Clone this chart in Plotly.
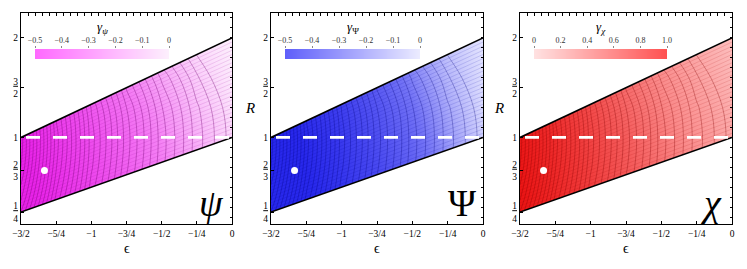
import plotly.graph_objects as go

# ---------------- data ----------------
eps_grid = [-1.5, -1.25, -1.0, -0.75, -0.5, -0.25, 0.0]
R_grid = [0.1, 0.4, 0.7, 1.0, 1.3, 1.6, 1.9, 2.3]

gamma_psi = [
    [-0.52, -0.47, -0.41, -0.34, -0.26, -0.17, -0.09],
    [-0.52, -0.47, -0.41, -0.34, -0.26, -0.17, -0.09],
    [-0.51, -0.46, -0.40, -0.33, -0.25, -0.16, -0.08],
    [-0.50, -0.44, -0.38, -0.31, -0.23, -0.14, -0.06],
    [-0.48, -0.42, -0.35, -0.28, -0.20, -0.11, -0.04],
    [-0.46, -0.39, -0.32, -0.24, -0.16, -0.08, -0.02],
    [-0.43, -0.36, -0.28, -0.20, -0.12, -0.05, -0.01],
    [-0.40, -0.32, -0.24, -0.16, -0.08, -0.03, 0.00],
]
gamma_Psi = [
    [-0.55, -0.51, -0.46, -0.40, -0.32, -0.21, -0.10],
    [-0.55, -0.51, -0.46, -0.40, -0.32, -0.21, -0.10],
    [-0.54, -0.50, -0.45, -0.39, -0.31, -0.19, -0.08],
    [-0.53, -0.49, -0.44, -0.37, -0.29, -0.17, -0.06],
    [-0.52, -0.47, -0.42, -0.35, -0.26, -0.14, -0.04],
    [-0.50, -0.45, -0.39, -0.32, -0.22, -0.11, -0.03],
    [-0.48, -0.43, -0.36, -0.28, -0.18, -0.08, -0.02],
    [-0.45, -0.40, -0.32, -0.24, -0.14, -0.05, -0.01],
]
gamma_chi = [
    [1.00, 0.92, 0.83, 0.73, 0.62, 0.50, 0.40],
    [1.00, 0.92, 0.83, 0.73, 0.62, 0.50, 0.40],
    [0.99, 0.91, 0.82, 0.72, 0.61, 0.49, 0.38],
    [0.98, 0.90, 0.80, 0.70, 0.58, 0.46, 0.35],
    [0.96, 0.87, 0.77, 0.66, 0.54, 0.42, 0.31],
    [0.93, 0.84, 0.73, 0.62, 0.50, 0.38, 0.27],
    [0.90, 0.80, 0.69, 0.57, 0.45, 0.33, 0.23],
    [0.86, 0.75, 0.64, 0.52, 0.40, 0.28, 0.19],
]
# mesh: arc index (arcs counted from the right edge)
mesh_arcs = [
    [31.1, 22.1, 15.1, 9.6, 5.1, 1.5, -1.5],
    [33.8, 24.3, 16.7, 10.9, 6.1, 2.4, -0.7],
    [35.5, 25.6, 17.7, 11.7, 6.8, 2.8, -0.2],
    [36.0, 26.0, 18.0, 12.0, 7.0, 3.0, 0.0],
    [34.9, 25.1, 17.4, 11.5, 6.6, 2.7, -0.3],
    [31.7, 22.5, 15.4, 9.8, 5.3, 1.7, -1.3],
    [26.3, 18.2, 12.2, 7.1, 3.1, 0.1, -2.9],
    [17.8, 11.9, 6.9, 2.9, -0.1, -3.1, -6.1],
]
# mesh: ray index (lines fanning between the lower and upper edge)
mesh_rays = [
    [-4.8, -8.3, -11.5, -14.4, -17.0, -19.4, -21.6],
    [4.8, 0.8, -2.9, -6.2, -9.2, -11.9, -14.4],
    [14.4, 9.9, 5.8, 2.1, -1.3, -4.4, -7.2],
    [24.0, 19.0, 14.4, 10.3, 6.6, 3.1, 0.0],
    [33.6, 28.0, 23.0, 18.5, 14.4, 10.6, 7.2],
    [43.2, 37.1, 31.7, 26.7, 22.3, 18.2, 14.4],
    [52.8, 46.2, 40.3, 35.0, 30.1, 25.7, 21.6],
    [65.6, 58.4, 51.8, 45.9, 40.6, 35.7, 31.2],
]

bound_eps = [-1.5, 0.0]
bound_upper = [1.0, 2.0]
bound_lower = [0.25, 1.0]
dash_R = [1.0, 1.0]
dot_eps = [-4 / 3]
dot_R = [2 / 3]

x_tickvals = [-1.5, -1.25, -1.0, -0.75, -0.5, -0.25, 0.0]
x_ticktext = ["\u22123/2", "\u22125/4", "\u22121", "\u22123/4", "\u22121/2", "\u22121/4", "0"]
y_tickvals = [0.25, 2 / 3, 1.0, 1.5, 2.0]
y_ticktext = ["<u>1</u><br>4", "<u>2</u><br>3", "1", "<u>3</u><br>2", "2"]

cb_neg_vals = [-0.5, -0.4, -0.3, -0.2, -0.1, 0.0]
cb_neg_text = ["\u22120.5", "\u22120.4", "\u22120.3", "\u22120.2", "\u22120.1", "0"]
cb_pos_vals = [0.0, 0.2, 0.4, 0.6, 0.8, 1.0]
cb_pos_text = ["0", "0.2", "0.4", "0.6", "0.8", "1.0"]

# ---------------- layout helpers ----------------
PAGE_OFF = 8           # the page body adds an 8px margin around the figure
W, H = 747 - 2 * PAGE_OFF, 269 - 2 * PAGE_OFF
FONT = "Liberation Serif"


def px(x):
    return (x - PAGE_OFF) / W


def py(y):
    return 1 - (y - PAGE_OFF) / H


panels = [
    dict(z=gamma_psi, zmin=-0.5, zmax=0.0,
         cs=[[0, "rgb(232,35,232)"], [0.5, "rgb(244,125,244)"], [1, "rgb(253,242,253)"]],
         cbcs=[[0, "rgb(255,105,255)"], [1, "rgb(253,240,253)"]],
         cbv=cb_neg_vals, cbt=cb_neg_text,
         arc="rgba(110,0,110,0.6)", ray="rgba(150,0,150,0.28)",
         x0=21, x1=232, cb0=35, cb1=169,
         title="<i>\u03b3</i><sub><i>\u03c8</i></sub>", letter="<i>\u03c8</i>"),
    dict(z=gamma_Psi, zmin=-0.5, zmax=0.0,
         cs=[[0, "rgb(40,40,235)"], [0.5, "rgb(115,115,245)"], [1, "rgb(236,236,255)"]],
         cbcs=[[0, "rgb(95,95,250)"], [1, "rgb(236,236,255)"]],
         cbv=cb_neg_vals, cbt=cb_neg_text,
         arc="rgba(0,0,120,0.5)", ray="rgba(0,0,170,0.28)",
         x0=271, x1=483, cb0=285, cb1=420,
         title="<i>\u03b3</i><sub>\u03a8</sub>", letter="\u03a8"),
    dict(z=gamma_chi, zmin=0.0, zmax=1.0,
         cs=[[0, "rgb(255,228,228)"], [0.5, "rgb(250,140,140)"], [1, "rgb(235,20,20)"]],
         cbcs=[[0, "rgb(255,225,225)"], [1, "rgb(255,80,80)"]],
         cbv=cb_pos_vals, cbt=cb_pos_text,
         arc="rgba(130,0,0,0.55)", ray="rgba(170,0,0,0.28)",
         x0=520, x1=732, cb0=534, cb1=667,
         title="<i>\u03b3</i><sub><i>\u03c7</i></sub>", letter="<i>\u03c7</i>"),
]

fig = go.Figure()
layout = dict(
    width=W, height=H, margin=dict(l=0, r=0, t=0, b=0, autoexpand=False),
    paper_bgcolor="white", plot_bgcolor="white", showlegend=False,
    font=dict(family=FONT, color="black"),
)
annotations = []
ydom = [py(224), py(13)]
yrange = [0.13, 2.25]
xrange = [-1.5, 0.0]


def note(x, y, text, size, **kw):
    d = dict(x=px(x), y=py(y), xref="paper", yref="paper", text=text, showarrow=False,
             xanchor="center", yanchor="middle", font=dict(size=size, family=FONT, color="black"))
    d.update(kw)
    return d


for i, p in enumerate(panels):
    k = i + 1
    kx = "" if k == 1 else str(k)
    xa, ya = "x" + kx, "y" + kx
    kt = str(k + 3)
    xt, yt = "x" + kt, "y" + kt
    kc = str(k + 6)
    xc, yc = "x" + kc, "y" + kc

    fig.add_trace(go.Heatmap(x=eps_grid, y=R_grid, z=p["z"], zmin=p["zmin"], zmax=p["zmax"],
                             colorscale=p["cs"], zsmooth="best", showscale=False,
                             hoverinfo="skip", xaxis=xa, yaxis=ya))
    fig.add_trace(go.Contour(x=eps_grid, y=R_grid, z=mesh_rays,
                             contours=dict(start=1, end=23, size=1, coloring="none"),
                             line=dict(color=p["ray"], width=0.5, smoothing=0),
                             showscale=False, hoverinfo="skip", xaxis=xa, yaxis=ya))
    fig.add_trace(go.Contour(x=eps_grid, y=R_grid, z=mesh_arcs,
                             contours=dict(start=0.5, end=40.5, size=1, coloring="none"),
                             line=dict(color=p["arc"], width=0.6, smoothing=1.0),
                             showscale=False, hoverinfo="skip", xaxis=xa, yaxis=ya))
    # white masks outside the band
    fig.add_trace(go.Scatter(
        x=bound_eps + [bound_eps[-1] + 0.05, bound_eps[-1] + 0.05, bound_eps[0] - 0.05, bound_eps[0] - 0.05],
        y=bound_upper + [bound_upper[-1], 3, 3, bound_upper[0]],
        fill="toself", fillcolor="white", mode="none", hoverinfo="skip", xaxis=xa, yaxis=ya))
    fig.add_trace(go.Scatter(
        x=bound_eps + [bound_eps[-1] + 0.05, bound_eps[-1] + 0.05, bound_eps[0] - 0.05, bound_eps[0] - 0.05],
        y=bound_lower + [bound_lower[-1], -1, -1, bound_lower[0]],
        fill="toself", fillcolor="white", mode="none", hoverinfo="skip", xaxis=xa, yaxis=ya))
    # boundary lines
    for by in (bound_upper, bound_lower):
        fig.add_trace(go.Scatter(x=bound_eps, y=by, mode="lines",
                                 line=dict(color="black", width=1.6), hoverinfo="skip",
                                 xaxis=xa, yaxis=ya))
    # dashed line R = 1
    fig.add_trace(go.Scatter(x=bound_eps, y=dash_R, mode="lines",
                             line=dict(color="white", width=2.6, dash="0px,5px,14px,8px"),
                             hoverinfo="skip", xaxis=xa, yaxis=ya))
    # white dot
    fig.add_trace(go.Scatter(x=dot_eps, y=dot_R, mode="markers",
                             marker=dict(color="white", size=7), hoverinfo="skip",
                             xaxis=xa, yaxis=ya))
    # invisible carrier for top/right tick axes
    fig.add_trace(go.Scatter(x=[None], y=[None], mode="markers", xaxis=xt, yaxis=yt,
                             hoverinfo="skip"))
    # colour bar drawn as a small heatmap on its own axes (labels on top)
    fig.add_trace(go.Heatmap(x=p["cbv"], y=[0], z=[p["cbv"]], zmin=p["zmin"], zmax=p["zmax"],
                             colorscale=p["cbcs"], zsmooth="best", showscale=False,
                             hoverinfo="skip", xaxis=xc, yaxis=yc))

    dom = [px(p["x0"]), px(p["x1"])]
    layout["xaxis" + kx] = dict(
        domain=dom, range=xrange, anchor=ya, tickmode="array", tickvals=x_tickvals,
        ticktext=x_ticktext, ticks="inside", ticklen=3, tickwidth=1, tickcolor="black",
        showline=True, linecolor="black", linewidth=1.2, mirror=True,
        showgrid=False, zeroline=False, tickfont=dict(size=9.5, family=FONT))
    layout["yaxis" + kx] = dict(
        domain=ydom, range=yrange, anchor=xa, tickmode="array", tickvals=y_tickvals,
        ticktext=y_ticktext, ticks="inside", ticklen=3, tickwidth=1, tickcolor="black",
        showline=True, linecolor="black", linewidth=1.2, mirror=True,
        showgrid=False, zeroline=False, tickfont=dict(size=9.5, family=FONT))
    layout["xaxis" + kt] = dict(
        overlaying=xa, anchor=ya, side="top", range=xrange, tick0=0, dtick=0.05,
        ticks="inside", ticklen=2.5, tickwidth=0.8, tickcolor="black",
        showticklabels=False, showgrid=False, zeroline=False, showline=False)
    layout["yaxis" + kt] = dict(
        overlaying=ya, anchor=xa, side="right", range=yrange, tick0=0, dtick=0.1,
        ticks="inside", ticklen=2.5, tickwidth=0.8, tickcolor="black",
        showticklabels=False, showgrid=False, zeroline=False, showline=False)
    cbr = [min(p["cbv"]), max(p["cbv"])]
    layout["xaxis" + kc] = dict(
        domain=[px(p["cb0"]), px(p["cb1"])], range=cbr, anchor=yc, side="top",
        tickmode="array", tickvals=p["cbv"], ticktext=p["cbt"], ticks="outside",
        ticklen=2, tickwidth=0.6, tickcolor="#888", showline=False, showgrid=False,
        zeroline=False, tickfont=dict(size=8, family=FONT, color="#333"))
    layout["yaxis" + kc] = dict(
        domain=[py(59), py(49)], range=[-0.5, 0.5], anchor=xc, visible=False)

    cx = (p["x0"] + p["x1"]) / 2
    cbx = (p["cb0"] + p["cb1"]) / 2
    annotations.append(note(cbx, 27, p["title"], 13))
    annotations.append(note(p["x1"] - 21, 203, p["letter"], 38))
    annotations.append(note(cx, 248, "\u03f5", 14))
    if k > 1:
        annotations.append(note(p["x0"] - 21, 108, "<i>R</i>", 15))

layout["annotations"] = annotations
fig.update_layout(**layout)
fig.write_html("out.html")
